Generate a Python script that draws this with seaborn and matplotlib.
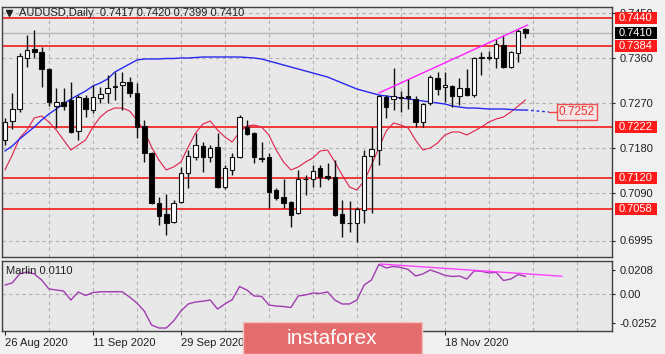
import numpy as np
import pandas as pd
import matplotlib
matplotlib.use("Agg")
import matplotlib.pyplot as plt
import seaborn as sns
from matplotlib.patches import Rectangle

# ---------------- data ----------------
date_labels = ["26 Aug 2020", "11 Sep 2020", "29 Sep 2020", "", "", "18 Nov 2020"]
date_pos = [0, 12, 24, 36, 48, 60]

opens = [0.7195, 0.7234, 0.7258, 0.7359, 0.7378, 0.7372, 0.7338, 0.7264, 0.7272, 0.7276,
         0.7214, 0.7280, 0.7256, 0.7280, 0.7290, 0.7302, 0.7306, 0.7312, 0.7290, 0.7224,
         0.7170, 0.7070, 0.7048, 0.7032, 0.7072, 0.7130, 0.7162, 0.7184, 0.7162, 0.7182,
         0.7102, 0.7136, 0.7162, 0.7222, 0.7210, 0.7160, 0.7162, 0.7096, 0.7082, 0.7072,
         0.7050, 0.7118, 0.7118, 0.7140, 0.7124, 0.7122, 0.7048, 0.7030, 0.7030, 0.7056,
         0.7164, 0.7176, 0.7282, 0.7278, 0.7282, 0.7284, 0.7278, 0.7232, 0.7270, 0.7320,
         0.7302, 0.7304, 0.7284, 0.7300, 0.7286, 0.7360, 0.7362, 0.7360, 0.7386, 0.7342,
         0.7370, 0.7417]
highs = [0.7240, 0.7290, 0.7370, 0.7406, 0.7416, 0.7382, 0.7340, 0.7300, 0.7300, 0.7312,
         0.7286, 0.7286, 0.7306, 0.7302, 0.7326, 0.7332, 0.7332, 0.7322, 0.7310, 0.7236,
         0.7172, 0.7082, 0.7088, 0.7076, 0.7142, 0.7176, 0.7210, 0.7192, 0.7186, 0.7210,
         0.7146, 0.7170, 0.7246, 0.7236, 0.7212, 0.7192, 0.7170, 0.7100, 0.7118, 0.7074,
         0.7136, 0.7126, 0.7146, 0.7146, 0.7150, 0.7156, 0.7076, 0.7074, 0.7062, 0.7176,
         0.7222, 0.7286, 0.7286, 0.7340, 0.7294, 0.7318, 0.7284, 0.7270, 0.7326, 0.7332,
         0.7332, 0.7306, 0.7320, 0.7338, 0.7362, 0.7372, 0.7374, 0.7398, 0.7406, 0.7374,
         0.7418, 0.7420]
lows = [0.7185, 0.7218, 0.7252, 0.7343, 0.7359, 0.7302, 0.7264, 0.7220, 0.7256, 0.7210,
        0.7196, 0.7242, 0.7250, 0.7270, 0.7270, 0.7276, 0.7256, 0.7282, 0.7200, 0.7152,
        0.7068, 0.7026, 0.7006, 0.7030, 0.7070, 0.7100, 0.7156, 0.7132, 0.7152, 0.7100,
        0.7098, 0.7126, 0.7160, 0.7206, 0.7150, 0.7152, 0.7060, 0.7076, 0.7060, 0.7022,
        0.7048, 0.7086, 0.7102, 0.7102, 0.7116, 0.7044, 0.7002, 0.7012, 0.6992, 0.7030,
        0.7050, 0.7146, 0.7240, 0.7256, 0.7252, 0.7258, 0.7222, 0.7222, 0.7266, 0.7286,
        0.7272, 0.7262, 0.7266, 0.7284, 0.7282, 0.7326, 0.7356, 0.7340, 0.7340, 0.7340,
        0.7352, 0.7399]
closes = [0.7232, 0.7258, 0.7364, 0.7375, 0.7373, 0.7338, 0.7272, 0.7272, 0.7264, 0.7212,
          0.7282, 0.7258, 0.7282, 0.7288, 0.7300, 0.7304, 0.7312, 0.7290, 0.7222, 0.7170,
          0.7070, 0.7044, 0.7030, 0.7070, 0.7130, 0.7164, 0.7186, 0.7162, 0.7180, 0.7102,
          0.7140, 0.7162, 0.7242, 0.7208, 0.7162, 0.7158, 0.7092, 0.7080, 0.7070, 0.7046,
          0.7118, 0.7118, 0.7134, 0.7122, 0.7120, 0.7046, 0.7030, 0.7030, 0.7058, 0.7164,
          0.7178, 0.7284, 0.7262, 0.7284, 0.7280, 0.7280, 0.7232, 0.7268, 0.7322, 0.7298,
          0.7306, 0.7284, 0.7300, 0.7286, 0.7360, 0.7362, 0.7360, 0.7388, 0.7342, 0.7372,
          0.7414, 0.7410]

ma_blue = [0.7174, 0.7184, 0.7198, 0.7210, 0.7222, 0.7236, 0.7248, 0.7258, 0.7268, 0.7278,
           0.7286, 0.7294, 0.7304, 0.7310, 0.7318, 0.7332, 0.7340, 0.7348, 0.7356, 0.7358,
           0.7358, 0.7358, 0.7359, 0.7359, 0.7360, 0.7360, 0.7361, 0.7362, 0.7362, 0.7362,
           0.7362, 0.7362, 0.7362, 0.7361, 0.7360, 0.7358, 0.7354, 0.7350, 0.7346, 0.7342,
           0.7338, 0.7334, 0.7330, 0.7326, 0.7322, 0.7316, 0.7310, 0.7304, 0.7298, 0.7294,
           0.7290, 0.7286, 0.7284, 0.7282, 0.7280, 0.7278, 0.7276, 0.7274, 0.7272, 0.7270,
           0.7268, 0.7264, 0.7262, 0.7260, 0.7260, 0.7259, 0.7258, 0.7258, 0.7258, 0.7257,
           0.7256, 0.7256]
ma_red = [0.7136, 0.7166, 0.7200, 0.7216, 0.7240, 0.7244, 0.7232, 0.7216, 0.7196, 0.7176,
          0.7186, 0.7196, 0.7222, 0.7242, 0.7254, 0.7260, 0.7260, 0.7254, 0.7236, 0.7214,
          0.7182, 0.7156, 0.7136, 0.7142, 0.7152, 0.7182, 0.7210, 0.7228, 0.7234, 0.7216,
          0.7202, 0.7192, 0.7212, 0.7224, 0.7226, 0.7222, 0.7206, 0.7176, 0.7152, 0.7136,
          0.7142, 0.7152, 0.7160, 0.7174, 0.7176, 0.7152, 0.7126, 0.7102, 0.7096, 0.7114,
          0.7146, 0.7180, 0.7214, 0.7230, 0.7226, 0.7220, 0.7196, 0.7176, 0.7180, 0.7190,
          0.7206, 0.7212, 0.7212, 0.7206, 0.7214, 0.7222, 0.7232, 0.7238, 0.7242, 0.7252,
          0.7264, 0.7276]
marlin = [0.0075, 0.0093, 0.0171, 0.0188, 0.0171, 0.0119, 0.0041, 0.0032, 0.0023, -0.0055,
          0.0015, -0.0016, 0.0010, 0.0016, 0.0017, 0.0017, 0.0017, -0.0029, -0.0081, -0.0150,
          -0.0271, -0.0297, -0.0297, -0.0237, -0.0150, -0.0089, -0.0072, -0.0065, -0.0055, -0.0133,
          -0.0089, -0.0052, 0.0062, 0.0032, -0.0020, -0.0023, -0.0098, -0.0107, -0.0111, -0.0120,
          -0.0020, -0.0011, 0.0006, 0.0002, 0.0015, -0.0055, -0.0089, -0.0089, -0.0055, 0.0075,
          0.0119, 0.0253, 0.0223, 0.0236, 0.0227, 0.0210, 0.0153, 0.0171, 0.0205, 0.0184,
          0.0159, 0.0149, 0.0153, 0.0127, 0.0197, 0.0194, 0.0179, 0.0185, 0.0114, 0.0127,
          0.0166, 0.0149]

levels = [0.7440, 0.7384, 0.7222, 0.7120, 0.7058]
price_ticks = [0.6995, 0.7090, 0.7180, 0.7270, 0.7360, 0.7450]
last_price = 0.7410
ma_projection = 0.7252
trend_x = [51, 71.3]
trend_y = [0.7290, 0.7426]
marlin_trend_x = [51.2, 76]
marlin_trend_y = [0.0257, 0.0151]
marlin_ticks = [-0.0252, 0.0, 0.0208]
title_text = "AUDUSD,Daily  0.7417 0.7420 0.7399 0.7410"
marlin_title = "Marlin 0.0110"

# ---------------- style ----------------
sns.set_style("white")
plt.rcParams["font.family"] = ["Liberation Sans", "DejaVu Sans"]
plt.rcParams["font.size"] = 8

W, H = 665, 354
fig = plt.figure(figsize=(W / 100, H / 100), dpi=100)
fig.patch.set_facecolor("#f0f0f0")

def px_axes(x0, y0, x1, y1):
    return fig.add_axes([x0 / W, 1 - y1 / H, (x1 - x0) / W, (y1 - y0) / H])

ax = px_axes(2, 7, 612, 257)
axi = px_axes(2, 261, 612, 331)

bg = "#e8e8e8"
grid_c = "#b0b0b0"
for a in (ax, axi):
    a.set_facecolor(bg)
    for s in a.spines.values():
        s.set_color("#404040")
        s.set_linewidth(1)
    a.set_xlim(-0.4, 82.8)

ax.set_ylim(0.6962, 0.7462)
axi.set_ylim(-0.0323, 0.0283)

n = len(opens)
idx = np.arange(n)
df = pd.DataFrame({"i": idx, "open": opens, "high": highs, "low": lows, "close": closes,
                   "ma_blue": ma_blue, "ma_red": ma_red, "marlin": marlin})

# grid
for g in range(6, 84, 6):
    ax.axvline(g, color=grid_c, lw=0.8, ls=(0, (3, 3)), zorder=0.5)
    axi.axvline(g, color=grid_c, lw=0.8, ls=(0, (3, 3)), zorder=0.5)
for t in price_ticks:
    ax.axhline(t, color=grid_c, lw=0.8, ls=(0, (3, 3)), zorder=0.5)
axi.axhline(0.0, color=grid_c, lw=0.8, ls=(0, (3, 3)), zorder=0.5)

# bid line
ax.axhline(last_price, color="#b8b8b8", lw=1.0, zorder=0.6)

# support/resistance lines
for lv in levels:
    ax.axhline(lv, color="#f22a2a", lw=1.3, zorder=1)

# moving averages (seaborn)
sns.lineplot(data=df, x="i", y="ma_red", ax=ax, color="#e0204a", lw=0.8, zorder=2)
sns.lineplot(data=df, x="i", y="ma_blue", ax=ax, color="#2828f0", lw=1.0, zorder=2)
ax.plot([n - 1, n + 2.2], [ma_blue[-1], ma_projection], color="#2828f0", lw=1.0,
        ls=(0, (2, 2)), zorder=2)
ax.plot([n + 2.2, n + 3.6], [ma_projection, ma_projection], color="#f04040", lw=1.0, zorder=2)

# candles
width = 0.62
for i in range(n):
    o, h, l, c = opens[i], highs[i], lows[i], closes[i]
    ax.vlines(i, l, h, color="#101010", lw=1.0, zorder=3)
    bottom = min(o, c)
    height = max(abs(c - o), 0.00007)
    fc = "white" if c >= o else "black"
    ax.bar(i, height, width=width, bottom=bottom, color=fc, edgecolor="#101010",
           linewidth=0.8, zorder=4)

# trend line
sns.lineplot(x=trend_x, y=trend_y, ax=ax, color="#ff20ff", lw=1.0, zorder=5)

# projection label
ax.text(n + 6.0, ma_projection, f"{ma_projection:.4f}", color="#f03030", fontsize=8.5,
        ha="center", va="center", zorder=6,
        bbox=dict(boxstyle="square,pad=0.15", fc="#f2e6e6", ec="#f05050", lw=1))

# y-axis main
ax.yaxis.tick_right()
ax.set_yticks(price_ticks)
ax.set_yticklabels([f"{t:.4f}" for t in price_ticks])
ax.tick_params(axis="y", right=True, length=2.5, width=0.8, pad=3, colors="#202020",
               labelsize=8)
ax.set_xticks([])
ax.set_xlabel("")
ax.set_ylabel("")

ytr = ax.get_yaxis_transform()
def level_box(val, fc):
    ax.add_patch(Rectangle((1.005, val - 0.00128), 0.069, 0.00256, transform=ytr,
                           facecolor=fc, edgecolor="none", clip_on=False, zorder=10))
    ax.text(1.0115, val, f"{val:.4f}", transform=ytr, color="white", fontsize=8,
            ha="left", va="center", clip_on=False, zorder=11)

for lv in levels:
    level_box(lv, "#ff1a1a")
level_box(last_price, "#000000")

# title
ax.plot([(9 - 2) / 610], [0.977], marker="v", color="#202020", markersize=5,
        transform=ax.transAxes, clip_on=False)
ax.text((19 - 2) / 610, 0.977, title_text, transform=ax.transAxes, fontsize=8,
        color="#202020", ha="left", va="center")

# indicator panel
sns.lineplot(data=df, x="i", y="marlin", ax=axi, color="#a03cb0", lw=1.0, zorder=3)
sns.lineplot(x=marlin_trend_x, y=marlin_trend_y, ax=axi, color="#ff40ff", lw=1.0, zorder=4)
axi.text((6 - 2) / 610, 0.86, marlin_title, transform=axi.transAxes, fontsize=8,
         color="#202020", ha="left", va="center")
axi.yaxis.tick_right()
axi.set_yticks(marlin_ticks)
axi.set_yticklabels(["-0.0252", "0.00", "0.0208"])
axi.tick_params(axis="y", right=True, length=2.5, width=0.8, pad=3, colors="#202020",
                labelsize=8)
axi.set_xticks(date_pos)
axi.set_xticklabels(date_labels, ha="left")
axi.tick_params(axis="x", bottom=True, length=3, width=0.8, pad=2, colors="#202020",
                labelsize=8)
axi.set_xlabel("")
axi.set_ylabel("")

# watermark
fig.patches.append(Rectangle((243 / W, 0), (422 - 243) / W, (354 - 322) / H,
                             transform=fig.transFigure, facecolor="#e46c6c",
                             edgecolor="#f4c0c0", lw=1, zorder=20))
fig.text(332 / W, 1 - 338 / H, "instaforex", color="white", fontsize=15,
         ha="center", va="center", zorder=21)

fig.savefig("out.png", dpi=100, facecolor=fig.get_facecolor())
